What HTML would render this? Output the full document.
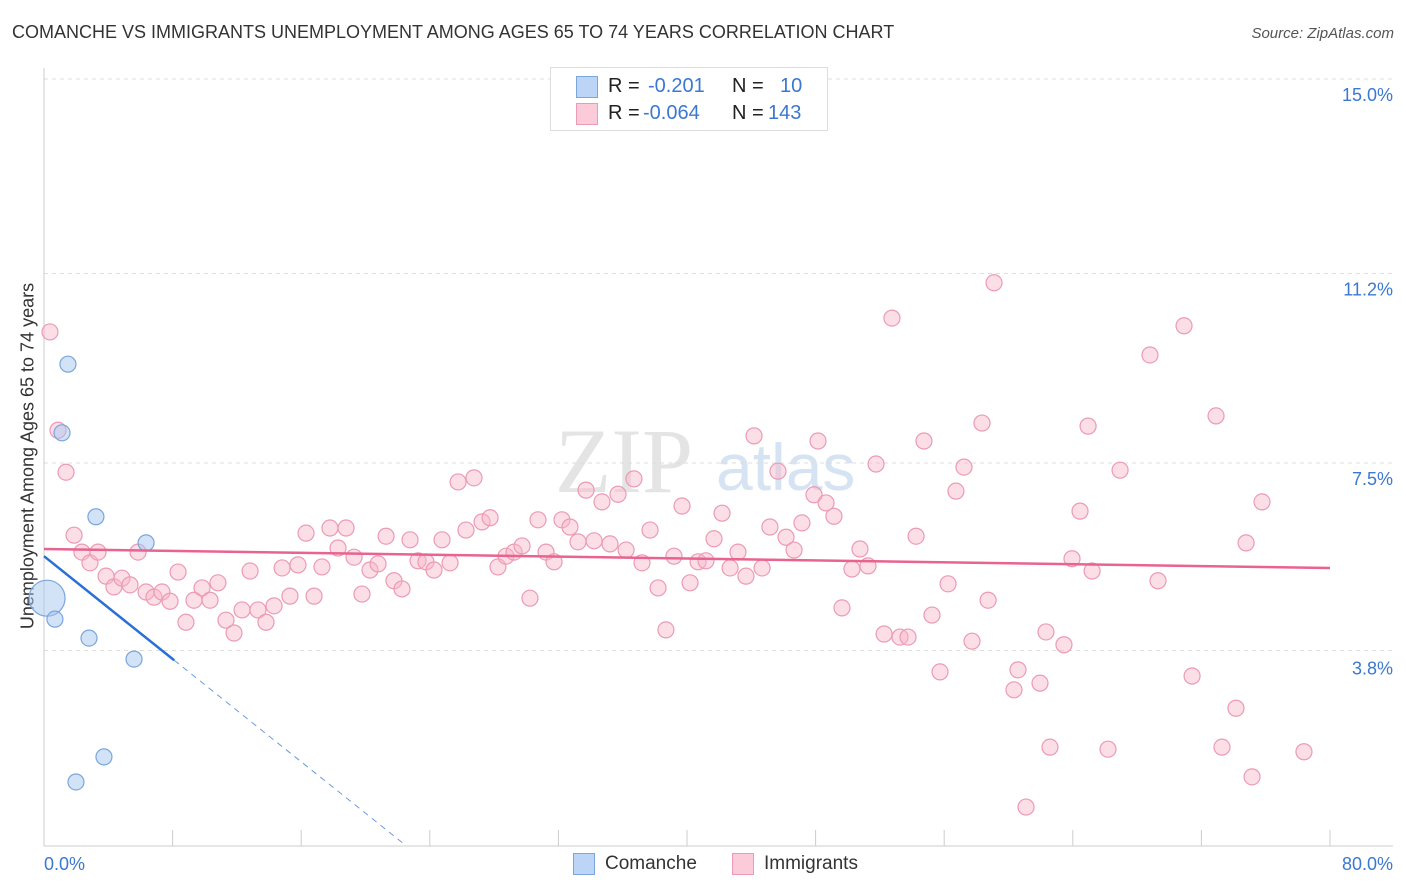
<!DOCTYPE html>
<html><head><meta charset="utf-8">
<style>
body{margin:0;background:#fff;font-family:"Liberation Sans",sans-serif;}
#wrap{position:relative;width:1406px;height:892px;overflow:hidden;}
.t{position:absolute;white-space:nowrap;}
</style></head>
<body>
<div id="wrap">
<div class="t" style="left:12px;top:22px;font-size:18px;color:#333;">COMANCHE VS IMMIGRANTS UNEMPLOYMENT AMONG AGES 65 TO 74 YEARS CORRELATION CHART</div>
<div class="t" style="right:12px;top:25px;font-size:15px;color:#555;font-style:italic;">Source: ZipAtlas.com</div>
<div class="t" style="left:28px;top:456px;font-size:18px;color:#333;transform:translate(-50%,-50%) rotate(-90deg);">Unemployment Among Ages 65 to 74 years</div>
<svg id="chart" width="1406" height="892" style="position:absolute;left:0;top:0"></svg>
</div>
<script>
const catTicksX=[0,8,16,24,32,40,48,56,64,72,80];
const yTicks=[3.8,7.5,11.2,15.0];
const yTickLabels=["3.8%","7.5%","11.2%","15.0%"];
const xEndLabels=["0.0%","80.0%"];
const comancheX=[0.19,0.68,1.49,1.12,3.23,6.35,2.80,5.60,3.73,1.99];
const comancheY=[4.86,4.45,9.43,8.09,6.45,5.94,4.08,3.67,1.76,1.27];
const immX=[0.37,0.87,1.37,1.87,2.36,2.86,3.36,3.86,4.35,4.85,5.35,5.85,6.35,6.84,7.34,7.84,8.34,8.83,9.33,9.83,10.33,10.82,11.32,11.82,12.32,12.82,13.31,13.81,14.31,14.81,15.30,15.80,16.30,16.80,17.29,17.79,18.29,18.79,19.29,19.78,20.28,20.78,21.28,21.77,22.27,22.77,23.27,23.76,24.26,24.76,25.26,25.76,26.25,26.75,27.25,27.75,28.24,28.74,29.24,29.74,30.23,30.73,31.23,31.73,32.22,32.72,33.22,33.72,34.22,34.71,35.21,35.71,36.21,36.70,37.20,37.70,38.20,38.69,39.19,39.69,40.19,40.69,41.18,41.68,42.18,42.68,43.17,43.67,44.17,44.67,45.16,45.66,46.16,46.66,47.15,47.90,48.15,48.65,49.14,49.64,50.26,50.76,51.26,51.76,52.26,52.75,53.25,53.75,54.25,54.74,55.24,55.74,56.24,56.73,57.23,57.73,58.35,58.73,59.10,60.34,60.59,61.09,61.96,62.33,62.58,63.45,63.95,64.45,64.95,65.20,66.19,66.94,68.80,69.30,70.92,71.42,72.91,73.28,74.15,74.78,75.15,75.77,78.38];
const immY=[10.06,8.14,7.32,6.09,5.76,5.55,5.76,5.29,5.08,5.25,5.12,5.76,4.98,4.88,4.98,4.80,5.37,4.39,4.82,5.06,4.82,5.16,4.43,4.18,4.63,5.39,4.63,4.39,4.71,5.45,4.90,5.51,6.13,4.90,5.47,6.23,5.84,6.23,5.66,4.94,5.41,5.53,6.07,5.20,5.04,6.00,5.59,5.57,5.41,6.00,5.55,7.13,6.19,7.21,6.35,6.43,5.47,5.68,5.76,5.88,4.86,6.39,5.76,5.57,6.39,6.25,5.96,6.97,5.98,6.74,5.92,6.89,5.80,7.19,5.55,6.19,5.06,4.24,5.68,6.66,5.16,5.57,5.59,6.02,6.52,5.45,5.76,5.29,8.03,5.45,6.25,7.34,6.05,5.80,6.33,6.88,7.93,6.72,6.46,4.67,5.43,5.82,5.49,7.48,4.16,10.33,4.10,4.10,6.07,7.93,4.53,3.42,5.14,6.95,7.42,4.02,8.28,4.82,11.02,3.07,3.46,0.78,3.20,4.20,1.95,3.95,5.63,6.56,8.22,5.39,1.91,7.36,9.61,5.20,10.18,3.34,8.42,1.95,2.71,5.94,1.37,6.74,1.86];
const immTrend=[5.82,5.45];
const comTrendIntercept=5.68, comTrendSlope=-0.251;

const svg=document.getElementById('chart');
const NS='http://www.w3.org/2000/svg';
const X=v=>44+v*1286/80;
const Y=v=>847-v*51.2;
function mk(tag,attrs,parent){const e=document.createElementNS(NS,tag);for(const k in attrs)e.setAttribute(k,attrs[k]);(parent||svg).appendChild(e);return e;}

// watermark
let wm=mk('text',{x:555,y:492,'font-size':92,fill:'#e4e4e4','font-family':'Liberation Serif, serif'});
wm.textContent='ZIP';


let wm2=mk('text',{x:716,y:490,'font-size':66,fill:'#d5e3f3','font-family':'Liberation Sans, sans-serif'});
wm2.textContent='atlas';



// gridlines
yTicks.forEach((v,i)=>{
  let g=mk('line',{x1:44,x2:1393,y1:Y(v===15?15.0:v)+(v===3.8?-2:0),y2:Y(v)+(v===3.8?-2:0),stroke:'#ddd','stroke-dasharray':'4,4'});
  
  
  let t=mk('text',{x:1393,y:Y(v)+22,'text-anchor':'end','font-size':18,fill:'#3b78d0'});
  t.textContent=yTickLabels[i];
  
  
});
// axes
let ya=mk('line',{x1:44,x2:44,y1:68,y2:846,stroke:'#ccc'});


let xa=mk('line',{x1:44,x2:1393,y1:846,y2:846,stroke:'#ccc'});


catTicksX.forEach(v=>{
  let t=mk('line',{x1:X(v),x2:X(v),y1:830,y2:846,stroke:'#ccc'});
  
  
});
let xl0=mk('text',{x:44,y:870,'font-size':18,fill:'#3b78d0'});xl0.textContent=xEndLabels[0];


let xl1=mk('text',{x:1393,y:870,'font-size':18,fill:'#3b78d0','text-anchor':'end'});xl1.textContent=xEndLabels[1];



// immigrants points
immX.forEach((v,i)=>{
  let c=mk('circle',{cx:X(v),cy:Y(immY[i]),r:8,fill:'rgba(248,182,202,0.45)',stroke:'#ec9ab5','stroke-width':1.2});
  
  
});
// comanche points
comancheX.forEach((v,i)=>{
  let c=mk('circle',{cx:X(v),cy:Y(comancheY[i]),r:i===0?18:8,fill:'rgba(166,198,240,0.5)',stroke:'#7aa6dc','stroke-width':1.2});
  
  
});
// trend lines
let it=mk('line',{x1:X(0),x2:X(80),y1:Y(immTrend[0]),y2:Y(immTrend[1]),stroke:'#e8638f','stroke-width':2.5});


const cs=8.1, ce=22.3;
let ct=mk('line',{x1:X(0),x2:X(cs),y1:Y(comTrendIntercept),y2:Y(comTrendIntercept+comTrendSlope*cs),stroke:'#2a6fd6','stroke-width':2.5});


let cd=mk('line',{x1:X(cs),x2:X(ce),y1:Y(comTrendIntercept+comTrendSlope*cs),y2:Y(comTrendIntercept+comTrendSlope*ce),stroke:'#6a9be0','stroke-width':1,'stroke-dasharray':'6,5'});


</script>

<div style="position:absolute;left:550px;top:67px;width:276px;height:62px;border:1px solid #ddd;background:#fff;font-size:20px;">
  <div style="position:absolute;left:25px;top:8px;">
    <span style="position:absolute;left:0;top:0;width:20px;height:20px;background:#bcd4f5;border:1px solid #7aa6dc;"></span>
    <span class="t" style="left:32px;top:-1px;color:#222;">R =</span>
    <span class="t" style="left:72px;top:-1px;color:#3b78d0;">-0.201</span>
    <span class="t" style="left:156px;top:-1px;color:#222;">N =</span>
    <span class="t" style="left:204px;top:-1px;color:#3b78d0;">10</span>
  </div>
  <div style="position:absolute;left:25px;top:35px;">
    <span style="position:absolute;left:0;top:0;width:20px;height:20px;background:#fbcbd9;border:1px solid #ec9ab5;"></span>
    <span class="t" style="left:32px;top:-1px;color:#222;">R =</span>
    <span class="t" style="left:67px;top:-1px;color:#3b78d0;">-0.064</span>
    <span class="t" style="left:156px;top:-1px;color:#222;">N =</span>
    <span class="t" style="left:192px;top:-1px;color:#3b78d0;">143</span>
  </div>
</div>

<div style="position:absolute;left:573px;top:853px;font-size:19px;color:#333;">
  <span style="position:absolute;left:0;top:0;width:20px;height:20px;background:#bcd4f5;border:1px solid #7aa6dc;"></span>
  <span class="t" style="left:32px;top:0;">Comanche</span>
  <span style="position:absolute;left:159px;top:0;width:20px;height:20px;background:#fbcbd9;border:1px solid #ec9ab5;"></span>
  <span class="t" style="left:191px;top:0;">Immigrants</span>
</div>
</body></html>
